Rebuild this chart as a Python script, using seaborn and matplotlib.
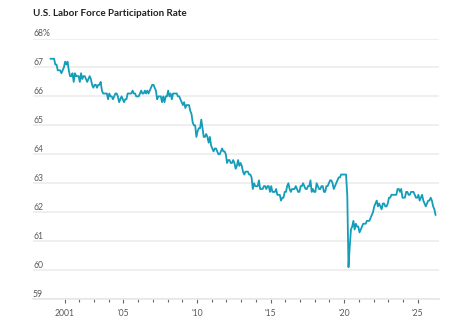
import numpy as np
import pandas as pd
import matplotlib
matplotlib.use("Agg")
import matplotlib.pyplot as plt
import seaborn as sns

# Monthly U.S. labor force participation rate (%), starting Jan 2000
lfpr_2000_2004 = [
    67.3, 67.3, 67.3, 67.3, 67.1, 67.1, 66.9, 66.9, 66.9, 66.8, 66.9, 67.0,
    67.2, 67.1, 67.2, 66.9, 66.7, 66.7, 66.8, 66.5, 66.8, 66.7, 66.7, 66.7,
    66.5, 66.8, 66.6, 66.7, 66.7, 66.6, 66.5, 66.6, 66.7, 66.6, 66.4, 66.3,
    66.4, 66.4, 66.3, 66.4, 66.4, 66.5, 66.2, 66.1, 66.1, 66.1, 66.1, 65.9,
    66.1, 66.0, 66.0, 65.9, 66.0, 66.1, 66.1, 66.0, 65.8, 65.9, 66.0, 65.9,
]
lfpr_2005_2009 = [
    65.8, 65.9, 65.9, 66.1, 66.1, 66.1, 66.1, 66.2, 66.1, 66.1, 66.0, 66.0,
    66.0, 66.1, 66.2, 66.1, 66.1, 66.2, 66.1, 66.2, 66.1, 66.2, 66.3, 66.4,
    66.4, 66.3, 66.2, 65.9, 66.0, 66.0, 66.0, 65.8, 66.0, 65.8, 66.0, 66.0,
    66.2, 66.0, 66.1, 65.9, 66.1, 66.1, 66.1, 66.1, 66.0, 66.0, 65.9, 65.8,
    65.7, 65.8, 65.6, 65.7, 65.7, 65.7, 65.5, 65.4, 65.1, 65.0, 65.0, 64.6,
]
lfpr_2010_2014 = [
    64.8, 64.9, 64.9, 65.2, 64.9, 64.6, 64.6, 64.7, 64.6, 64.4, 64.6, 64.3,
    64.2, 64.1, 64.2, 64.2, 64.1, 64.0, 64.0, 64.1, 64.2, 64.1, 64.1, 64.0,
    63.7, 63.8, 63.8, 63.7, 63.7, 63.8, 63.7, 63.5, 63.6, 63.8, 63.6, 63.7,
    63.6, 63.4, 63.3, 63.4, 63.4, 63.4, 63.3, 63.3, 63.2, 62.8, 63.0, 62.9,
    62.9, 62.9, 63.1, 62.8, 62.8, 62.8, 62.9, 62.9, 62.8, 62.9, 62.9, 62.7,
]
lfpr_2015_2019 = [
    62.9, 62.7, 62.7, 62.7, 62.8, 62.6, 62.6, 62.6, 62.4, 62.5, 62.5, 62.7,
    62.7, 62.9, 63.0, 62.8, 62.7, 62.8, 62.8, 62.8, 62.9, 62.8, 62.7, 62.7,
    62.9, 62.9, 63.0, 62.9, 62.8, 62.8, 62.9, 62.9, 63.1, 62.7, 62.8, 62.7,
    62.7, 63.0, 62.9, 62.8, 62.8, 62.9, 62.9, 62.7, 62.7, 62.9, 62.9, 63.0,
    63.1, 63.1, 63.0, 62.8, 62.9, 63.0, 63.1, 63.2, 63.2, 63.3, 63.3, 63.3,
]
lfpr_2020_2024 = [
    63.3, 63.3, 62.6, 60.1, 60.8, 61.4, 61.5, 61.7, 61.4, 61.6, 61.5, 61.5,
    61.3, 61.4, 61.5, 61.6, 61.6, 61.6, 61.7, 61.7, 61.7, 61.8, 61.9, 62.0,
    62.2, 62.3, 62.4, 62.2, 62.3, 62.2, 62.1, 62.3, 62.3, 62.2, 62.2, 62.3,
    62.5, 62.5, 62.6, 62.6, 62.6, 62.6, 62.6, 62.8, 62.8, 62.7, 62.8, 62.5,
    62.5, 62.5, 62.7, 62.7, 62.6, 62.6, 62.7, 62.7, 62.7, 62.6, 62.5, 62.5,
]
lfpr_2025_2026 = [
    62.6, 62.4, 62.5, 62.6, 62.4, 62.3, 62.2, 62.3, 62.4, 62.4, 62.5, 62.4,
    62.2, 62.1, 61.9,
]
start_year = 2000

x_major_ticks = [2001, 2005, 2010, 2015, 2020, 2025]
x_major_labels = ["2001", "'05", "'10", "'15", "'20", "'25"]
x_minor_ticks = list(range(2001, 2026))
y_ticks = [59, 60, 61, 62, 63, 64, 65, 66, 67, 68]
y_labels = ["59", "60", "61", "62", "63", "64", "65", "66", "67", "68%"]
title = "U.S. Labor Force Participation Rate"

values = (lfpr_2000_2004 + lfpr_2005_2009 + lfpr_2010_2014 +
          lfpr_2015_2019 + lfpr_2020_2024 + lfpr_2025_2026)
months = np.arange(len(values))
df = pd.DataFrame({"t": start_year + (months + 0.5) / 12.0, "rate": values})

sns.set_theme(style="white")
plt.rcParams["font.family"] = ["Lato", "DejaVu Sans"]

W, H = 460, 321
fig = plt.figure(figsize=(W / 100, H / 100), dpi=100)
ax = fig.add_axes([33 / W, (H - 299) / H, (439 - 33) / W, (299 - 38.5) / H])

sns.lineplot(data=df, x="t", y="rate", ax=ax, color="#149db9", lw=1.3)

ax.set_xlim(1998.86, 2026.44)
ax.set_ylim(59, 68)
ax.set_xlabel("")
ax.set_ylabel("")

for name, s in ax.spines.items():
    s.set_visible(False)
ax.spines["bottom"].set_visible(True)
ax.spines["bottom"].set_color("#e6e6e6")
ax.spines["bottom"].set_linewidth(1.2)

ax.set_yticks(y_ticks)
ax.set_yticklabels(y_labels)
ax.grid(axis="y", color="#ececec", lw=1.2)
ax.grid(axis="x", visible=False)
ax.set_axisbelow(True)
ax.tick_params(axis="y", length=0, pad=0, labelsize=6.2, labelcolor="#5a5a5a")
plt.setp(ax.get_yticklabels(), ha="left", va="bottom")

ax.set_xticks(x_major_ticks)
ax.set_xticklabels(x_major_labels)
ax.set_xticks(x_minor_ticks, minor=True)
ax.tick_params(axis="x", which="major", bottom=True, length=3, width=0.8,
               color="#666666", labelsize=6.2, labelcolor="#5a5a5a", pad=4)
ax.tick_params(axis="x", which="minor", bottom=True, length=1.8, width=0.8,
               color="#666666")

fig.text(33 / W, 1 - 14 / H, title, fontsize=7.1, fontweight="bold",
         color="#222222", ha="left", va="center")

fig.savefig("out.png", dpi=100)
